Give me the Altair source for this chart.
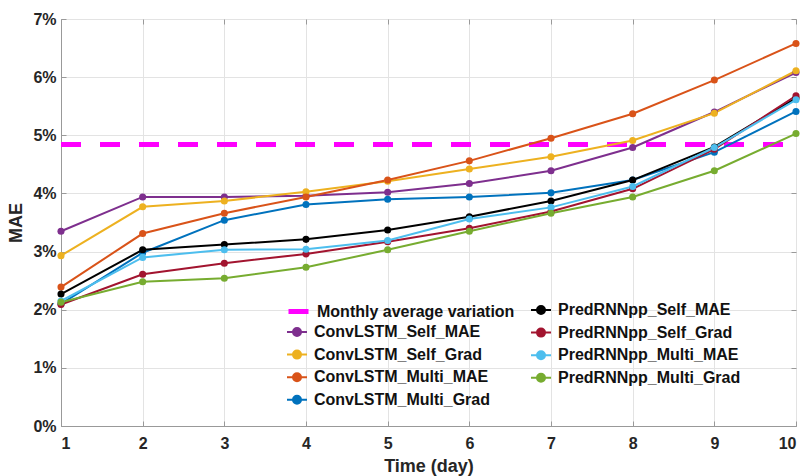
import altair as alt
import pandas as pd

days = [1, 2, 3, 4, 5, 6, 7, 8, 9, 10]

conv_self_mae = [3.35, 3.94, 3.94, 3.96, 4.02, 4.17, 4.39, 4.79, 5.40, 6.08]
conv_self_grad = [2.93, 3.77, 3.87, 4.03, 4.21, 4.42, 4.63, 4.91, 5.38, 6.11]
conv_multi_mae = [2.39, 3.31, 3.66, 3.94, 4.23, 4.56, 4.95, 5.37, 5.95, 6.58]
conv_multi_grad = [2.10, 2.98, 3.54, 3.81, 3.90, 3.94, 4.01, 4.23, 4.71, 5.41]
pred_self_mae = [2.27, 3.03, 3.12, 3.21, 3.37, 3.60, 3.87, 4.23, 4.80, 5.64]
pred_self_grad = [2.09, 2.61, 2.80, 2.96, 3.17, 3.40, 3.69, 4.08, 4.76, 5.68]
pred_multi_mae = [2.15, 2.90, 3.03, 3.04, 3.19, 3.56, 3.76, 4.12, 4.79, 5.61]
pred_multi_grad = [2.13, 2.48, 2.54, 2.73, 3.03, 3.35, 3.66, 3.94, 4.39, 5.03]

monthly_days = [1, 10]
monthly_value = [4.84, 4.84]

y_ticks = [0, 1, 2, 3, 4, 5, 6, 7]

conv_names = ["ConvLSTM_Self_MAE", "ConvLSTM_Self_Grad", "ConvLSTM_Multi_MAE", "ConvLSTM_Multi_Grad"]
pred_names = ["PredRNNpp_Self_MAE", "PredRNNpp_Self_Grad", "PredRNNpp_Multi_MAE", "PredRNNpp_Multi_Grad"]
conv_values = [conv_self_mae, conv_self_grad, conv_multi_mae, conv_multi_grad]
pred_values = [pred_self_mae, pred_self_grad, pred_multi_mae, pred_multi_grad]
conv_colors = ["#7E2F8E", "#EDB120", "#D95319", "#0072BD"]
pred_colors = ["#000000", "#A2142F", "#4DBEEE", "#77AC30"]
monthly_name = "Monthly average variation"
monthly_color = "#FF00FF"


def long_frame(names, values):
    rows = []
    for name, vals in zip(names, values):
        for d, v in zip(days, vals):
            rows.append({"series": name, "day": d, "value": v})
    return pd.DataFrame(rows)


df_conv = long_frame(conv_names, conv_values)
df_pred = long_frame(pred_names, pred_values)
df_month = pd.DataFrame({"series": monthly_name, "day": monthly_days, "value": monthly_value})

FONT = "Liberation Sans"
PLOT_W, PLOT_H = 735, 407
line_pt = "M-1,0L1,0M0.4,0A0.4,0.4,0,1,1,-0.4,0A0.4,0.4,0,1,1,0.4,0Z"

common_legend = dict(
    title=None, orient="none", direction="vertical",
    symbolSize=400, labelFont=FONT, labelFontSize=16,
    labelFontWeight="bold", labelColor="#111111", labelLimit=400,
    rowPadding=3.6, labelOffset=6, padding=0, symbolOpacity=1,
)

x_scale = alt.Scale(domain=[1, 10], nice=False)
y_scale = alt.Scale(domain=[0, 7], nice=False)

# main axes (labels + grid)
x_main = alt.X("day:Q", scale=x_scale,
               axis=alt.Axis(title="Time (day)", values=days, tickSize=0, labelPadding=9,
                             titlePadding=6, format="d"))
y_main = alt.Y("value:Q", scale=y_scale,
               axis=alt.Axis(title="MAE", values=y_ticks, tickSize=0,
                             labelPadding=5, titlePadding=7,
                             labelExpr="datum.value + '%'"))


def tick_axis(orient, offset):
    return alt.Axis(title=None, orient=orient, offset=offset, labels=False, grid=False,
                    domain=False, ticks=True, tickSize=5, tickColor="#999999", tickWidth=1)


# inward tick marks on all four sides (MATLAB box style)
x_top = alt.X("day:Q", scale=x_scale, axis=alt.Axis(values=days, **tick_axis("bottom", -PLOT_H).to_dict()))
x_bot = alt.X("day:Q", scale=x_scale, axis=alt.Axis(values=days, **tick_axis("top", -PLOT_H).to_dict()))
y_right = alt.Y("value:Q", scale=y_scale, axis=alt.Axis(values=y_ticks, **tick_axis("left", -PLOT_W).to_dict()))
y_left = alt.Y("value:Q", scale=y_scale, axis=alt.Axis(values=y_ticks, **tick_axis("right", -PLOT_W).to_dict()))

month_color = alt.Color("series:N", scale=alt.Scale(domain=[monthly_name], range=[monthly_color]),
                        legend=alt.Legend(legendX=225, legendY=280, symbolType="stroke",
                                          symbolStrokeWidth=5, symbolDash=[1, 0], **common_legend))
monthly = alt.Chart(df_month).mark_line(strokeWidth=5, strokeDash=[20, 19]).encode(
    x=x_main, y=y_main, color=month_color)


def group(df, names, colors, lx, ly, xe, ye):
    col = alt.Color("series:N", scale=alt.Scale(domain=names, range=colors),
                    legend=alt.Legend(legendX=lx, legendY=ly, symbolType=line_pt,
                                      symbolStrokeWidth=2, **common_legend))
    ln = alt.Chart(df).mark_line(strokeWidth=2).encode(x=xe, y=ye, color=col)
    pt = alt.Chart(df).mark_point(filled=True, size=50, opacity=1).encode(x=xe, y=ye, color=col)
    return alt.layer(ln, pt)


conv = group(df_conv, conv_names, conv_colors, 225, 302, x_top, y_right)
pred = group(df_pred, pred_names, pred_colors, 469, 280, x_bot, y_left)

chart = alt.layer(monthly, conv, pred).resolve_scale(color="independent").resolve_axis(
    x="independent", y="independent"
).properties(
    width=PLOT_W, height=PLOT_H,
    padding={"left": 61, "top": 19, "right": 10, "bottom": 50},
    autosize=alt.AutoSizeParams(type="none"),
    background="white",
).configure_view(stroke="#999999", strokeWidth=1).configure_axis(
    labelFont=FONT, labelFontSize=16, labelFontWeight="bold", labelColor="#262626",
    titleFont=FONT, titleFontSize=18, titleFontWeight="bold", titleColor="#262626",
    gridColor="#e3e3e3", gridWidth=1, domainColor="#999999",
)

chart.save("out.html", embed_options={"renderer": "svg", "actions": False})
